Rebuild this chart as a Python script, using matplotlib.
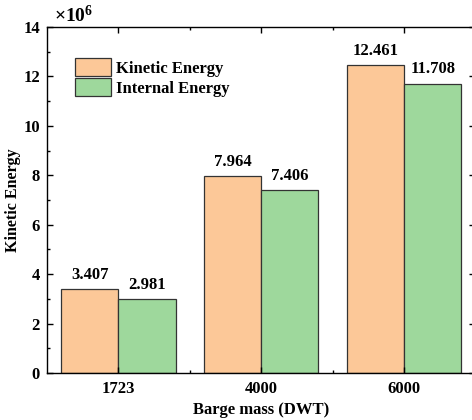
import numpy as np
import matplotlib.pyplot as plt
from matplotlib.ticker import MultipleLocator, FixedLocator

plt.rcParams['font.family'] = ['Liberation Serif', 'DejaVu Serif']
plt.rcParams['font.weight'] = 'bold'
plt.rcParams['mathtext.fontset'] = 'custom'
plt.rcParams['mathtext.rm'] = 'Liberation Serif'
plt.rcParams['mathtext.bf'] = 'Liberation Serif:bold'

categories = ['1723', '4000', '6000']
kinetic = [3.407, 7.964, 12.461]
internal = [2.981, 7.406, 11.708]
series_names = ['Kinetic Energy', 'Internal Energy']

c_orange = '#FCC898'
c_green = '#9ED89C'

fig = plt.figure(figsize=(4.72, 4.2), dpi=100)
ax = fig.add_axes([47 / 472, 1 - 373 / 420, 428.5 / 472, 346 / 420])

x = np.arange(len(categories))
w = 0.4
b1 = ax.bar(x - w / 2, kinetic, w, color=c_orange, edgecolor='#333333', lw=0.9,
            label=series_names[0])
b2 = ax.bar(x + w / 2, internal, w, color=c_green, edgecolor='#333333', lw=0.9,
            label=series_names[1])

for bars, vals in [(b1, kinetic), (b2, internal)]:
    for r, v in zip(bars, vals):
        ax.text(r.get_x() + r.get_width() / 2, v + 0.25, f'{v:.3f}',
                ha='center', va='bottom', fontsize=12, fontweight='bold')

ax.set_xlim(-0.5, 2.5)
ax.set_ylim(0, 14)
ax.set_xticks(x)
ax.set_xticklabels(categories)
ax.xaxis.set_minor_locator(FixedLocator([0.5, 1.5]))
ax.yaxis.set_major_locator(MultipleLocator(2))
ax.yaxis.set_minor_locator(MultipleLocator(1))
ax.tick_params(which='both', direction='in', top=True, right=True, labelsize=12)
ax.tick_params(which='major', length=4, width=1)
ax.tick_params(which='minor', length=2.5, width=1)
ax.tick_params(axis='x', pad=6)
ax.tick_params(axis='y', pad=5)
for s in ax.spines.values():
    s.set_linewidth(1)

ax.set_xlabel('Barge mass (DWT)', fontsize=12, fontweight='bold', labelpad=3)
ax.set_ylabel('Kinetic Energy', fontsize=11.5, fontweight='bold', labelpad=2)
fig.text(54 / 472, 1 - 15 / 420, r'$\mathbf{\times 10^6}$', fontsize=14,
         ha='left', va='center')

ax.legend(loc='upper left', bbox_to_anchor=(0.05, 0.93), frameon=False,
          fontsize=12, handlelength=2.15, handleheight=1.3, labelspacing=0.1,
          handletextpad=0.3, borderaxespad=0)

fig.savefig('out.png', dpi=100)
